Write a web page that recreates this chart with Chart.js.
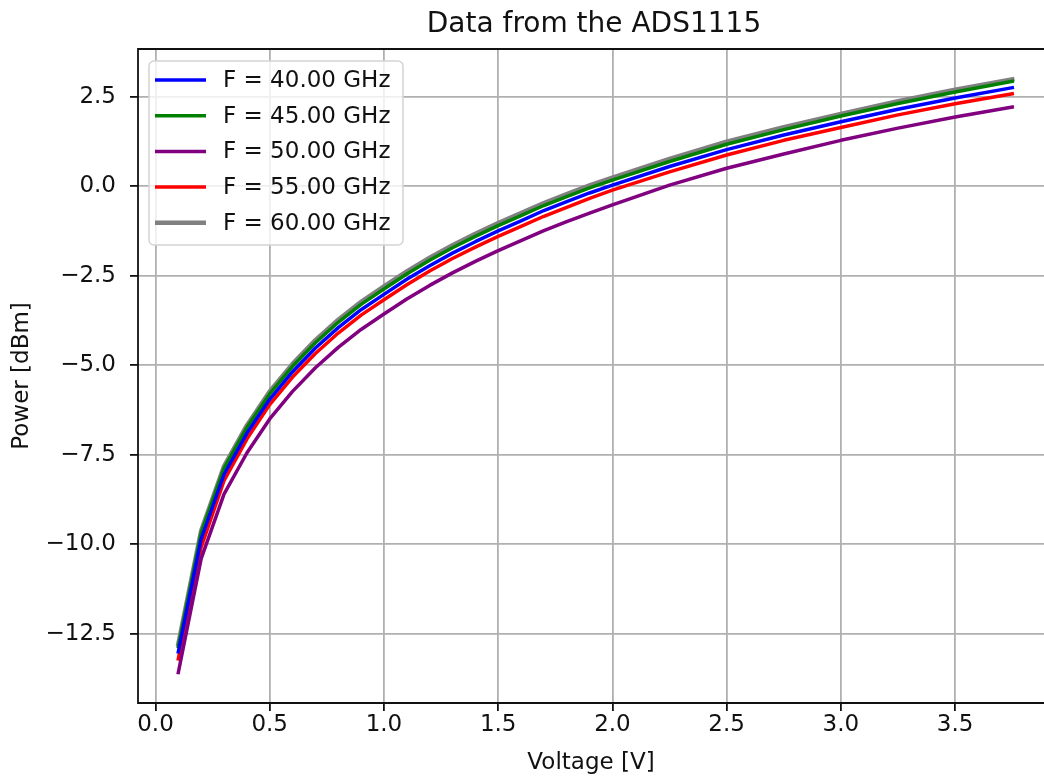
<!DOCTYPE html>
<html>
<head>
<meta charset="utf-8">
<title>Data from the ADS1115</title>
<script src="https://cdn.jsdelivr.net/npm/chart.js@4"></script>
<style>
  html, body { margin: 0; padding: 0; overflow: hidden; background: #ffffff; }
</style>
</head>
<body>
<canvas id="grafico" width="1044" height="779"></canvas>
<script>
var tensioni = [0.1, 0.2, 0.3, 0.4, 0.5, 0.6, 0.7, 0.8, 0.9, 1.0,
                1.1, 1.2, 1.3, 1.4, 1.5, 1.6, 1.7, 1.8, 1.9, 2.0,
                2.25, 2.5, 2.75, 3.0, 3.25, 3.5, 3.75];

// potenza [dBm] per ogni frequenza
var potenza40 = [-13.0, -9.85, -8.05, -6.9, -5.95, -5.18, -4.52, -3.95, -3.45, -3.02,
                 -2.6, -2.22, -1.87, -1.55, -1.25, -0.97, -0.68, -0.43, -0.19, 0.03,
                 0.55, 1.02, 1.43, 1.80, 2.15, 2.46, 2.75];
var potenza45 = [-12.85, -9.68, -7.88, -6.74, -5.8, -5.03, -4.37, -3.8, -3.3, -2.87,
                 -2.45, -2.07, -1.72, -1.4, -1.1, -0.82, -0.54, -0.29, -0.05, 0.17,
                 0.69, 1.17, 1.58, 1.96, 2.31, 2.63, 2.93];
var potenza50 = [-13.58, -10.4, -8.6, -7.45, -6.5, -5.73, -5.07, -4.5, -4.0, -3.57,
                 -3.15, -2.77, -2.42, -2.1, -1.8, -1.52, -1.24, -0.99, -0.75, -0.52,
                 0.03, 0.5, 0.9, 1.28, 1.62, 1.93, 2.21];
var potenza55 = [-13.2, -10.08, -8.22, -7.06, -6.1, -5.33, -4.67, -4.1, -3.6, -3.17,
                 -2.75, -2.37, -2.02, -1.7, -1.4, -1.12, -0.84, -0.59, -0.34, -0.11,
                 0.4, 0.87, 1.28, 1.64, 1.99, 2.3, 2.58];
var potenza60 = [-12.78, -9.62, -7.82, -6.68, -5.73, -4.96, -4.3, -3.73, -3.23, -2.8,
                 -2.38, -2.0, -1.65, -1.33, -1.03, -0.75, -0.47, -0.22, 0.02, 0.24,
                 0.76, 1.24, 1.65, 2.02, 2.37, 2.69, 2.98];

var etichette = ["F = 40.00 GHz", "F = 45.00 GHz", "F = 50.00 GHz", "F = 55.00 GHz", "F = 60.00 GHz"];
var colori = ["#0000ff", "#008000", "#800080", "#ff0000", "#808080"];

var tickX = [0.0, 0.5, 1.0, 1.5, 2.0, 2.5, 3.0, 3.5];
var tickY = [-12.5, -10.0, -7.5, -5.0, -2.5, 0.0, 2.5];

var chart;

function punti(valori){
    var lista = [];
    for (var i = 0; i < tensioni.length; i++){
        lista.push({ x: tensioni[i], y: valori[i] });
    }
    return lista;
}

function formatta(v){
    return v.toFixed(1).replace("-", "\u2212");
}

// cornice (il lato destro resta fuori dall'immagine), titolo e legenda
var pluginCornice = {
    id: "cornice",
    afterDatasetsDraw: function(c){
        var a = c.chartArea;
        var ctx = c.ctx;
        ctx.save();
        ctx.strokeStyle = "#111111";
        ctx.lineWidth = 1.8;
        ctx.beginPath();
        ctx.moveTo(c.width + 2, a.top);
        ctx.lineTo(a.left, a.top);
        ctx.lineTo(a.left, a.bottom);
        ctx.lineTo(c.width + 2, a.bottom);
        ctx.stroke();
        ctx.restore();
    },
    afterDraw: function(c){
        var a = c.chartArea;
        var ctx = c.ctx;
        ctx.save();

        ctx.font = "28px 'DejaVu Sans'";
        ctx.fillStyle = "#111111";
        ctx.textAlign = "center";
        ctx.textBaseline = "middle";
        ctx.fillText("Data from the ADS1115", 594, 25);

        var x = a.left + 11;
        var y = a.top + 12;
        ctx.beginPath();
        ctx.roundRect(x, y, 254, 184, 5);
        ctx.fillStyle = "rgba(255,255,255,0.8)";
        ctx.fill();
        ctx.strokeStyle = "#d4d4d4";
        ctx.lineWidth = 1.5;
        ctx.stroke();

        ctx.font = "23px 'DejaVu Sans'";
        ctx.textAlign = "left";
        for (var i = 0; i < etichette.length; i++){
            var riga = y + 19 + i * 35.7;
            ctx.beginPath();
            ctx.moveTo(x + 6, riga);
            ctx.lineTo(x + 57, riga);
            ctx.strokeStyle = colori[i];
            ctx.lineWidth = i == 4 ? 4.5 : 3.5;
            ctx.stroke();
            ctx.fillStyle = "#111111";
            ctx.fillText(etichette[i], x + 74, riga + 1);
        }
        ctx.restore();
    }
};

function creaGrafico(){
    var serie = [potenza40, potenza45, potenza50, potenza55, potenza60];
    var datasets = [];
    for (var i = 0; i < serie.length; i++){
        datasets.push({
            label: etichette[i],
            data: punti(serie[i]),
            borderColor: colori[i],
            borderWidth: i == 4 ? 4.5 : 3.5,
            fill: false
        });
    }

    Chart.defaults.font.family = "'DejaVu Sans'";

    var context = document.getElementById("grafico").getContext("2d");
    chart = new Chart(context, {
        type: "line",
        data: { datasets: datasets },
        options: {
            responsive: false,
            animation: false,
            devicePixelRatio: 1,
            layout: { padding: { left: 0, top: 49, right: 0, bottom: 0 } },
            plugins: {
                legend: { display: false },
                title: { display: false },
                tooltip: { enabled: false }
            },
            elements: {
                point: { radius: 0 },
                line: { tension: 0, borderCapStyle: "square", borderJoinStyle: "round" }
            },
            scales: {
                x: {
                    type: "linear",
                    min: -0.0765,
                    max: 3.889,
                    afterFit: function(s){ s.height = 76; },
                    afterBuildTicks: function(s){ s.ticks = tickX.map(v => ({ value: v })); },
                    ticks: {
                        callback: formatta,
                        font: { size: 23 },
                        color: "#111111",
                        padding: 0,
                        maxRotation: 0,
                        autoSkip: false
                    },
                    grid: { color: "#b0b0b0", lineWidth: 1.8, tickLength: 8, tickColor: "#111111", tickWidth: 1.8 },
                    border: { display: false },
                    title: { display: true, text: "Voltage [V]", font: { size: 23 }, color: "#111111", padding: { top: 0, bottom: 2 } }
                },
                y: {
                    type: "linear",
                    min: -14.43,
                    max: 3.83,
                    afterFit: function(s){ s.width = 138; },
                    afterBuildTicks: function(s){ s.ticks = tickY.map(v => ({ value: v })); },
                    ticks: {
                        callback: formatta,
                        font: { size: 23 },
                        color: "#111111",
                        padding: 14,
                        autoSkip: false
                    },
                    grid: { color: "#b0b0b0", lineWidth: 1.8, tickLength: 8, tickColor: "#111111", tickWidth: 1.8 },
                    border: { display: false },
                    title: { display: true, text: "Power [dBm]", font: { size: 23 }, color: "#111111", padding: { top: 8, bottom: 0 } }
                }
            }
        },
        plugins: [pluginCornice]
    });
}

document.addEventListener("DOMContentLoaded", () => {
    creaGrafico();
});
</script>
</body>
</html>
